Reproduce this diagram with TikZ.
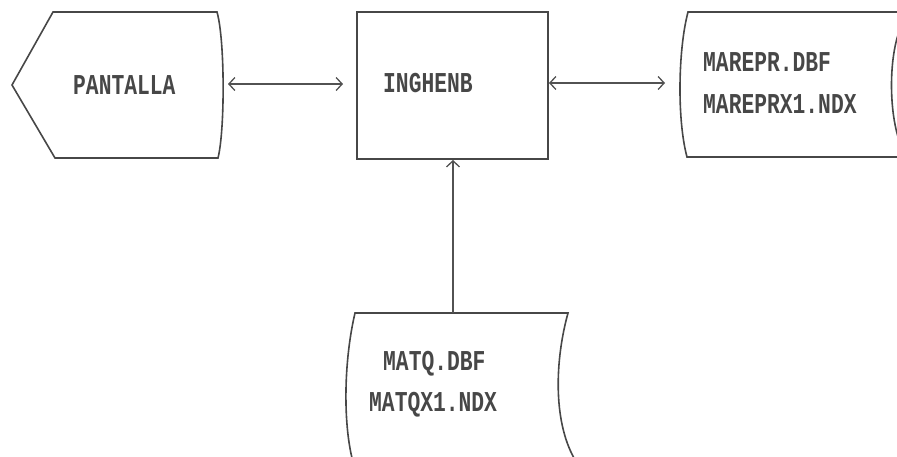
\documentclass[tikz,border=0pt]{standalone}
\usepackage{fontspec}
\setmonofont{Liberation Mono}
\usetikzlibrary{arrows.meta}
\begin{document}
\begin{tikzpicture}[x=1pt,y=-1pt,
  shapeline/.style={draw=black!72, line width=1.6pt},
  lbl/.style={anchor=west, inner sep=0pt, text=black!72,
    font=\fontsize{21.3}{24}\selectfont\ttfamily\bfseries},
  flow/.style={draw=black!68, line width=1.3pt,
    {Straight Barb[length=6pt,width=13pt]}-{Straight Barb[length=6pt,width=13pt]}},
  upflow/.style={draw=black!68, line width=1.3pt,
    -{Straight Barb[length=6pt,width=13pt]}}
]
\useasboundingbox (0,0) rectangle (897,456);
% PANTALLA display shape
\draw[shapeline] (53,12) -- (217,12) .. controls (225,40) and (225,130) .. (218,158)
   -- (55,158) -- (12,85) -- cycle;
\node[lbl] (pan) at (73,85) {\scalebox{1}[1.35]{PANTALLA}};
% INGHENB process box
\node[shapeline, rectangle, minimum width=191pt, minimum height=147pt, inner sep=0pt] (ing) at (452.5,85.5) {};
\node[lbl] (ingt) at (383,83.5) {\scalebox{1}[1.35]{INGHENB}};
% MAREPR stored data
\draw[shapeline] (899,12) -- (688,12) .. controls (678,50) and (677,120) .. (687,157) -- (899,157);
\draw[shapeline] (899,32) .. controls (889,60) and (889,110) .. (899,140);
\node[lbl] (m1) at (703,62) {\scalebox{1}[1.35]{MAREPR.DBF}};
\node[lbl] (m2) at (703,104.5) {\scalebox{1}[1.35]{MAREPRX1.NDX}};
% MATQ stored data
\draw[shapeline] (352,458) .. controls (343,420) and (344,360) .. (355,313) -- (568,313)
   .. controls (555,360) and (553,420) .. (574,458);
\coordinate (mtop) at (453,313);
\node[lbl] (q1) at (383,363.5) {\scalebox{1}[1.35]{MATQ.DBF}};
\node[lbl] (q2) at (369,405) {\scalebox{1}[1.35]{MATQX1.NDX}};
% connectors
\coordinate (a1l) at (228,84);
\coordinate (a1r) at (343,84);
\coordinate (a2l) at (549,83);
\coordinate (a2r) at (665,83);
\coordinate (a3t) at (453,160);
\draw[flow] (a1l) -- (a1r);
\draw[flow] (a2l) -- (a2r);
\draw[upflow] (mtop) -- (a3t);
\end{tikzpicture}
\end{document}
